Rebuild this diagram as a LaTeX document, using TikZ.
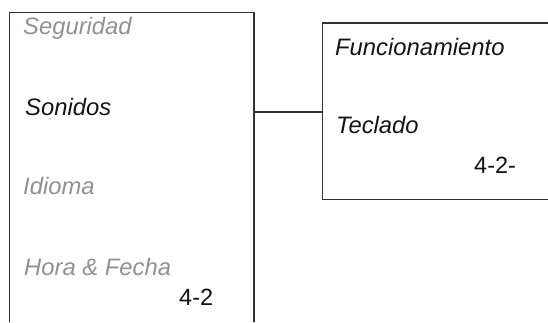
\documentclass[tikz,border=0pt]{standalone}
\usepackage{fontspec}
\setmainfont{Liberation Sans}
\definecolor{dimtext}{RGB}{145,145,145}
\definecolor{maintext}{RGB}{20,20,20}
\definecolor{linegray}{RGB}{50,50,50}
\begin{document}
\begin{tikzpicture}[x=1pt,y=-1pt,
  item/.style={anchor=base west,inner sep=0pt,font=\fontsize{23.8}{28}\selectfont\itshape,text=maintext},
  dim/.style={item,text=dimtext},
  ref/.style={anchor=base west,inner sep=0pt,font=\fontsize{23.5}{28}\selectfont,text=maintext},
  frame/.style={draw=linegray,line width=1.1pt},
  link/.style={draw=linegray,line width=1.1pt}]
\useasboundingbox (0,0) rectangle (548,322);
% left box (open at bottom)
\draw[frame] (9.5,322) -- (9.5,12.5) -- (254,12.5) -- (254,322);
% right box (open at right)
\draw[frame] (548,23) -- (322.7,23) -- (322.7,199.5) -- (548,199.5);
\coordinate (L) at (254,112);
\coordinate (R) at (322.7,112);
\draw[link] (L) -- (R);
% left texts
\node[dim]  (seg) at (23,34)  {Seguridad};
\node[item] (son) at (25,115) {Sonidos};
\node[dim]  (idi) at (23,194) {Idioma};
\node[dim]  (hor) at (24,275) {Hora \& Fecha};
\node[ref]  (pl)  at (179,305) {4-2};
% right texts
\node[item] (fun) at (335,55)  {Funcionamiento};
\node[item] (tec) at (336,133) {Teclado};
\node[ref]  (pr)  at (474,173) {4-2-};
\end{tikzpicture}
\end{document}
